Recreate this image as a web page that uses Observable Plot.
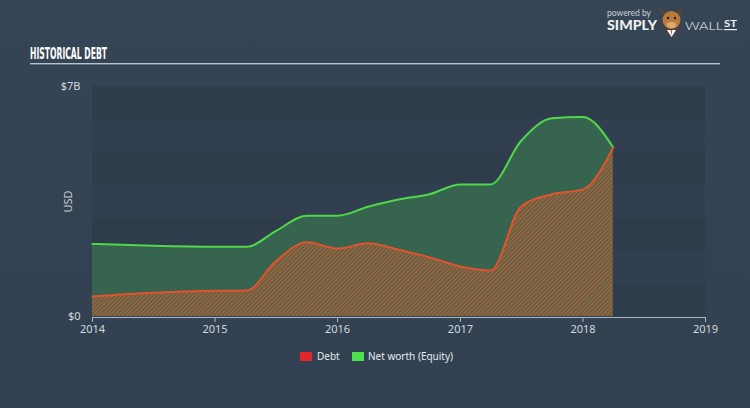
<!DOCTYPE html>
<html>
<head>
<meta charset="utf-8">
<script src="https://cdn.jsdelivr.net/npm/d3@7"></script>
<script src="https://cdn.jsdelivr.net/npm/@observablehq/plot@0.6"></script>
<style>
  html, body { margin: 0; padding: 0; }
  body { width: 750px; height: 408px; background: #334252; overflow: hidden; font-family: "Open Sans", "DejaVu Sans", sans-serif; }
  #wrap { position: relative; width: 750px; height: 408px; background: linear-gradient(180deg, #364555 0%, #324151 100%); }
  #chart { position: absolute; left: 0; top: 0; }
  .abs { position: absolute; }
  .lg { position: absolute; font-size: 10px; color: #e6e9ec; font-family: "Noto Sans", "Open Sans", sans-serif; white-space: nowrap; line-height: 12px; }
  .sw { position: absolute; width: 12px; height: 9px; }
  #usd { position: absolute; left: 56px; top: 194px; transform: rotate(-90deg); transform-origin: center; color: #c8cdd2; font-size: 11px; font-family: "Noto Sans", "Open Sans", sans-serif; width: 22px; text-align: center; }
</style>
</head>
<body>
<div id="wrap">
  <div id="chart"></div>
  <svg class="abs" style="left:0;top:0" width="750" height="70">
    <text x="30" y="59" font-family="Liberation Sans Narrow, DejaVu Sans Condensed, sans-serif" font-weight="bold" font-size="15" fill="#ffffff" textLength="77" lengthAdjust="spacingAndGlyphs">HISTORICAL DEBT</text>
    <rect x="30" y="63" width="690" height="1.4" fill="#b9c1c9"></rect>
    <text x="607" y="16" font-family="Lato, Open Sans, sans-serif" font-size="8.5" fill="#c9ced3" textLength="44" lengthAdjust="spacingAndGlyphs">powered by</text>
    <text x="607" y="30" font-family="Lato, Open Sans, sans-serif" font-weight="900" font-size="12.5" fill="#eef0f2" textLength="50" lengthAdjust="spacingAndGlyphs">SIMPLY</text>
    <circle cx="671.5" cy="27" r="11" fill="#3e434b"></circle>
    <path d="M663 15 L659 7 L666 13 Z M680 15 L684 7 L677 13 Z" fill="#6a4422"></path>
    <ellipse cx="671.5" cy="20" rx="9" ry="9" fill="#b87a3a"></ellipse>
    <ellipse cx="671.5" cy="25" rx="5" ry="3.2" fill="#d9a86a"></ellipse>
    <circle cx="668" cy="18" r="1.2" fill="#2a1a10"></circle>
    <circle cx="675" cy="18" r="1.2" fill="#2a1a10"></circle>
    <path d="M667 30 L676 30 L671.5 37 Z" fill="#ffffff"></path>
    <path d="M670.7 30 L672.3 30 L671.5 36 Z" fill="#e04a2a"></path>
    <text x="685" y="29.5" font-family="Lato, Open Sans, sans-serif" font-weight="300" font-size="12" fill="#eef0f2" textLength="38" lengthAdjust="spacingAndGlyphs">WALL</text>
    <text x="724" y="27" font-family="Lato, Open Sans, sans-serif" font-weight="bold" font-size="10" fill="#eef0f2" textLength="13" lengthAdjust="spacingAndGlyphs">ST</text>
    <rect x="724" y="29" width="13" height="1.2" fill="#eef0f2"></rect>
  </svg>
  <div id="usd">USD</div>
  <span class="sw" style="left:300px;top:352px;background:#e3262b"></span>
  <span class="lg" style="left:317px;top:350px">Debt</span>
  <span class="sw" style="left:352px;top:352px;background:#50e24e"></span>
  <span class="lg" style="left:368px;top:350px">Net worth (Equity)</span>
</div>
<script>
// ---- data (values in $B) ----
const dates = ["2014-01-01","2014-07-01","2015-01-01","2015-04-05","2015-07-01","2015-10-01","2016-01-01","2016-04-01","2016-07-01","2016-10-01","2017-01-01","2017-04-01","2017-07-01","2017-10-01","2018-01-01","2018-04-01"];
const debt   = [0.61, 0.72, 0.78, 0.79, 1.68, 2.26, 2.07, 2.23, 2.03, 1.80, 1.52, 1.40, 3.35, 3.72, 3.87, 5.14];
const equity = [2.21, 2.15, 2.12, 2.12, 2.60, 3.07, 3.07, 3.34, 3.56, 3.72, 4.02, 4.02, 5.35, 6.03, 6.07, 5.15];
const yTicks = [0, 7];
const yTickLabels = ["$0", "$7B"];
const xTicks = ["2014-01-01","2015-01-01","2016-01-01","2017-01-01","2018-01-01","2019-01-01"];
const bands = [0,1,2,3,4,5,6];

const rows = dates.map((d, i) => ({date: new Date(d), debt: debt[i], equity: equity[i]}));
const xStart = new Date(xTicks[0]), xEnd = new Date(xTicks[xTicks.length - 1]);

const chart = Plot.plot({
  width: 750,
  height: 408,
  marginLeft: 92,
  marginRight: 45,
  marginTop: 86,
  marginBottom: 92,
  style: {background: "transparent", fontFamily: "Noto Sans, Open Sans, sans-serif", fontSize: "11px"},
  x: {type: "utc", domain: [xStart, xEnd]},
  y: {domain: [0, 7]},
  marks: [
    Plot.rect(bands, {x1: xStart, x2: xEnd, y1: d => d, y2: d => d + 1, fill: d => d % 2 === 0 ? "#2e3c4c" : "#323f50"}),
    Plot.areaY(rows, {x: "date", y: "equity", fill: "#37644f", curve: "monotone-x"}),
    Plot.areaY(rows, {x: "date", y: "debt", fill: "url(#hatch)", curve: "monotone-x"}),
    Plot.lineY(rows, {x: "date", y: "equity", stroke: "#4fd84a", strokeWidth: 2, curve: "monotone-x"}),
    Plot.lineY(rows, {x: "date", y: "debt", stroke: "#e2532c", strokeWidth: 2, curve: "monotone-x"}),
    Plot.ruleY([0], {x1: xStart, x2: xEnd, stroke: "#aeb6bf", strokeWidth: 1.2, dy: 1}),
    Plot.axisX({ticks: xTicks.map(d => new Date(d)), tickFormat: d3.utcFormat("%Y"), tickSize: 5, tickPadding: 3, color: "#d3d7db", stroke: "#aeb6bf", label: null, dy: 1}),
    Plot.axisY({ticks: yTicks, tickFormat: (d, i) => yTickLabels[yTicks.indexOf(d)], tickSize: 0, tickPadding: 12, color: "#d3d7db", label: null})
  ]
});

// hatch pattern for the debt area
const svg = d3.select(chart.tagName.toLowerCase() === "svg" ? chart : chart.querySelector("svg"));
const defs = svg.insert("defs", ":first-child");
const pat = defs.append("pattern").attr("id", "hatch").attr("patternUnits", "userSpaceOnUse")
  .attr("width", 3).attr("height", 3).attr("patternTransform", "rotate(45)");
pat.append("rect").attr("width", 3).attr("height", 3).attr("fill", "#41694e");
pat.append("rect").attr("width", 1.4).attr("height", 3).attr("fill", "#c25a33");

document.getElementById("chart").appendChild(chart);
</script>
</body>
</html>
